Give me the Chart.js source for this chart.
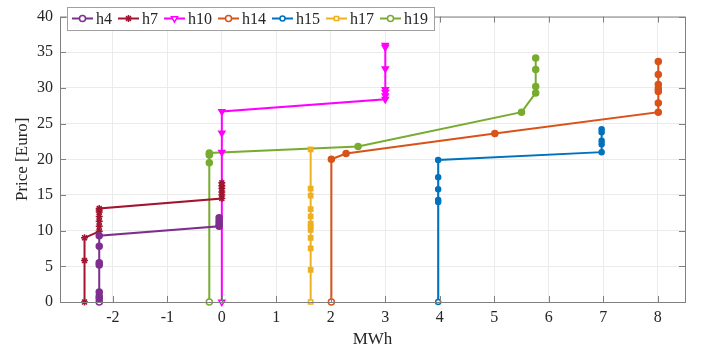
<!DOCTYPE html>
<html>
<head>
<meta charset="utf-8">
<script src="https://cdn.jsdelivr.net/npm/chart.js@4"></script>
<style>
  body { margin: 0; background: #fff; }
  #wrap { width: 706px; height: 352px; }
</style>
</head>
<body>
<div id="wrap"><canvas id="chart1" width="706" height="352"></canvas></div>
<script>
// bid curves per hour (MWh, Euro)
const h4x = [-2.25, -2.25, -2.25, -2.25, -2.25, -2.25, -2.25, -2.25, -0.05, -0.05, -0.05, -0.05]
const h4y = [0, 0.5, 0.8, 1.4, 5.2, 5.5, 7.8, 9.3, 10.6, 10.9, 11.3, 11.8]
const h7x = [-2.52, -2.52, -2.52, -2.25, -2.25, -2.25, -2.25, -2.25, -2.25, -2.25, 0, 0, 0, 0, 0, 0]
const h7y = [0, 5.8, 9.0, 9.9, 10.6, 11.3, 12.0, 12.6, 12.9, 13.1, 14.5, 15.0, 15.4, 15.9, 16.3, 16.7]
const h10x = [0, 0, 0, 0, 3, 3, 3, 3, 3, 3, 3]
const h10y = [0, 21.0, 23.7, 26.7, 28.4, 28.9, 29.4, 29.8, 32.7, 35.7, 36.0]
const h14x = [2.01, 2.01, 2.28, 5.01, 8.01, 8.01, 8.01, 8.01, 8.01, 8.01, 8.01]
const h14y = [0, 20.0, 20.8, 23.6, 26.6, 27.9, 29.5, 29.9, 30.5, 31.9, 33.7]
const h15x = [3.97, 3.97, 3.97, 3.97, 3.97, 3.97, 6.97, 6.97, 6.97, 6.97, 6.97]
const h15y = [0, 14.0, 14.3, 15.8, 17.5, 19.9, 21.0, 22.1, 22.6, 23.8, 24.2]
const h17x = [1.63, 1.63, 1.63, 1.63, 1.63, 1.63, 1.63, 1.63, 1.63, 1.63, 1.63, 1.63]
const h17y = [0, 4.5, 7.5, 9.0, 10.1, 10.6, 11.0, 12.0, 13.0, 14.9, 15.9, 21.4]
const h19x = [-0.23, -0.23, -0.23, -0.23, 2.5, 5.5, 5.76, 5.76, 5.76, 5.76]
const h19y = [0, 19.5, 20.6, 20.9, 21.8, 26.6, 29.3, 30.2, 32.6, 34.2]

const names = ['h4', 'h7', 'h10', 'h14', 'h15', 'h17', 'h19']
const xs = [h4x, h7x, h10x, h14x, h15x, h17x, h19x]
const ys = [h4y, h7y, h10y, h14y, h15y, h17y, h19y]
const colors = ['#7E2F8E', '#A2142F', '#FF00FF', '#D95319', '#0072BD', '#EDB120', '#77AC30']
const markers = ['circle', 'star', 'triangle', 'circle', 'circle', 'rect', 'circle']
const rotations = [0, 0, 180, 0, 0, 0, 0]
const radii = [3, 3.5, 3.5, 3, 2.5, 3, 3]
const xTicks = [-2, -1, 0, 1, 2, 3, 4, 5, 6, 7, 8]

const serif = "'Liberation Serif', 'DejaVu Serif', serif"

const datasets = names.map((n, i) => ({
    label: n,
    data: xs[i].map((x, j) => ({x: x, y: ys[i][j]})),
    borderColor: colors[i],
    borderWidth: 2,
    pointStyle: markers[i],
    rotation: rotations[i],
    pointRadius: radii[i],
    pointBorderWidth: 1.5,
    pointBorderColor: colors[i],
    pointBackgroundColor: xs[i].map((x, j) => j == 0 ? '#ffffff' : colors[i]),
    tension: 0,
    showLine: true,
    fill: false
}))

// legend box drawn inside the plot area, like matlab 'northwest' horizontal
const boxLegend = {
    id: 'boxLegend',
    afterDraw(chart) {
        const ctx = chart.ctx
        ctx.save()
        ctx.font = "16px " + serif
        let x = 67, y0 = 7, h = 23
        let widths = names.map(n => ctx.measureText(n).width)
        let total = 5 + widths.reduce((a, w) => a + 21 + 3 + w + 6, 0)
        ctx.fillStyle = '#fff'
        ctx.fillRect(x, y0, total, h)
        ctx.strokeStyle = '#a0a0a0'
        ctx.lineWidth = 1
        ctx.strokeRect(x + 0.5, y0 + 0.5, total, h)
        let cx = x + 5
        let cy = y0 + h / 2
        names.forEach((n, i) => {
            ctx.strokeStyle = colors[i]
            ctx.lineWidth = 2
            ctx.beginPath()
            ctx.moveTo(cx, cy)
            ctx.lineTo(cx + 21, cy)
            ctx.stroke()
            ctx.fillStyle = '#fff'
            ctx.strokeStyle = colors[i]
            ctx.lineWidth = 1.5
            Chart.helpers.drawPoint(ctx, {
                pointStyle: markers[i], rotation: rotations[i], radius: radii[i], borderWidth: 1.5
            }, cx + 10.5, cy)
            ctx.fillStyle = '#262626'
            ctx.textBaseline = 'middle'
            ctx.fillText(n, cx + 24, cy + 1)
            cx += 21 + 3 + widths[i] + 6
        })
        ctx.restore()
    }
}

// matlab style box around the axes with inward ticks
const axesBox = {
    id: 'axesBox',
    afterDatasetsDraw(chart) {
        const {ctx, chartArea: a, scales} = chart
        ctx.save()
        ctx.strokeStyle = '#808080'
        ctx.lineWidth = 1
        ctx.strokeRect(a.left + 0.5, a.top + 0.5, a.right - a.left, a.bottom - a.top)
        ctx.beginPath()
        xTicks.forEach(t => {
            let px = Math.round(scales.x.getPixelForValue(t)) + 0.5
            ctx.moveTo(px, a.bottom); ctx.lineTo(px, a.bottom - 6)
            ctx.moveTo(px, a.top); ctx.lineTo(px, a.top + 6)
        })
        for (let v = 0; v <= 40; v += 5) {
            let py = Math.round(scales.y.getPixelForValue(v)) + 0.5
            ctx.moveTo(a.left, py); ctx.lineTo(a.left + 6, py)
            ctx.moveTo(a.right, py); ctx.lineTo(a.right - 6, py)
        }
        ctx.stroke()
        ctx.restore()
    }
}

const context = document.getElementById('chart1').getContext('2d')
const myChart = new Chart(context, {
    type: 'line',
    data: {datasets: datasets},
    options: {
        responsive: false,
        animation: false,
        clip: false,
        layout: {padding: {top: 11, right: 21, left: 0, bottom: 0}},
        plugins: {legend: {display: false}, tooltip: {enabled: false}},
        scales: {
            x: {
                type: 'linear',
                min: -2.97,
                max: 8.5,
                afterBuildTicks: s => { s.ticks = xTicks.map(v => ({value: v})) },
                afterFit: s => { s.height = 50 },
                grid: {color: '#ebebeb', drawTicks: false},
                border: {display: false},
                ticks: {color: '#262626', font: {family: serif, size: 16}, padding: 6, maxRotation: 0},
                title: {display: true, text: 'MWh', color: '#262626', font: {family: serif, size: 17}, padding: {top: 0, bottom: 2}}
            },
            y: {
                min: 0,
                max: 40,
                afterFit: s => { s.width = 60 },
                grid: {color: '#ebebeb', drawTicks: false},
                border: {display: false},
                ticks: {stepSize: 5, color: '#262626', font: {family: serif, size: 16}, padding: 7},
                title: {display: true, text: 'Price [Euro]', color: '#262626', font: {family: serif, size: 17}, padding: {top: 12, bottom: 4}}
            }
        }
    },
    plugins: [axesBox, boxLegend]
})
</script>
</body>
</html>
